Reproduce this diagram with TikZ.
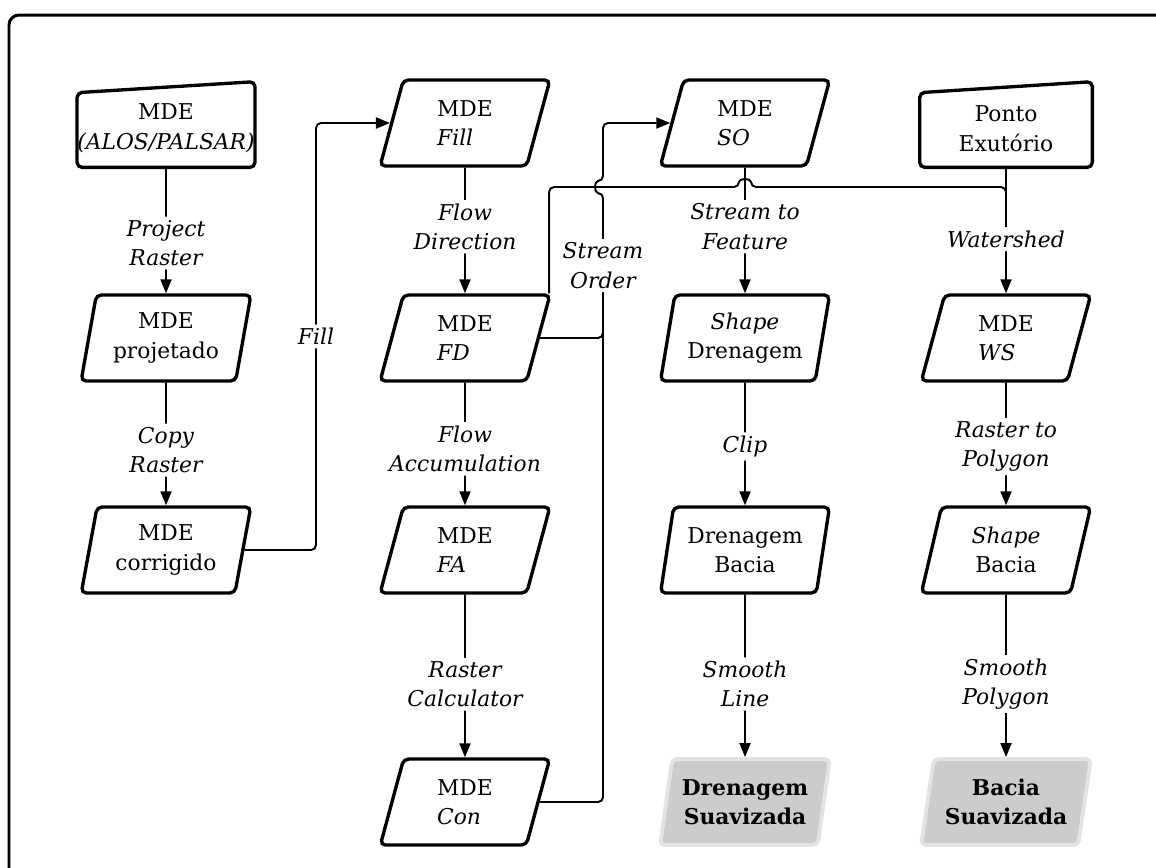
\documentclass[tikz,border=0pt]{standalone}
\usepackage{fontspec}
\setmainfont{DejaVu Serif}
\usetikzlibrary{shapes.geometric,arrows.meta,calc,positioning}

\tikzset{
  txt/.style={font=\fontsize{12.4}{16.8}\selectfont},
  proc/.style={txt, trapezium, trapezium left angle=77, trapezium right angle=103,
    trapezium stretches=true, draw, line width=1.9pt, rounded corners=0.1cm,
    minimum width=3.4cm, minimum height=1.72cm, inner sep=0pt, align=center},
  result/.style={proc, fill=gray!40, draw=gray!22, line width=2.2pt, font=\fontsize{12.4}{16.8}\selectfont\bfseries},
  inbox/.style={txt, rectangle, minimum width=3.44cm, minimum height=1.54cm, inner sep=0pt, align=center},
  inline/.style={line width=1.9pt, rounded corners=0.1cm},
  lbl/.style={txt, fill=white, font=\fontsize{12.4}{16.8}\selectfont\itshape, align=center, inner sep=2pt},
  link/.style={line width=1.1pt, rounded corners=0.1cm},
  flow/.style={link, -{Triangle[length=2.8mm,width=2.2mm]}}
}

\begin{document}
\begin{tikzpicture}[x=0.02cm, y=-0.02cm]
\pgfmathsetmacro{\colA}{166}
\pgfmathsetmacro{\colB}{465}
\pgfmathsetmacro{\colC}{745}
\pgfmathsetmacro{\colD}{1006}
\pgfmathsetmacro{\rowA}{123}
\pgfmathsetmacro{\rowB}{338}
\pgfmathsetmacro{\rowC}{550}
\pgfmathsetmacro{\rowD}{802}

\useasboundingbox (0,0) rectangle (1156,867);
\clip (0,0) rectangle (1156,867);
\draw[line width=1.7pt, rounded corners=0.2cm] (9,15) rectangle (1190,900);

% Nodes
\node[inbox] (dem) at (\colA,128.5) {MDE\\\textit{(ALOS/PALSAR)}};
\node[proc] (proj) at (\colA,\rowB) {MDE\\projetado};
\node[proc] (corr) at (\colA,\rowC) {MDE\\corrigido};

\node[proc, align=left] (fill) at (\colB,\rowA) {MDE\\\textit{Fill}};
\node[proc, align=left] (fd) at (\colB,\rowB) {MDE\\\textit{FD}};
\node[proc, align=left] (fa) at (\colB,\rowC) {MDE\\\textit{FA}};
\node[proc, align=left] (con) at (\colB,\rowD) {MDE\\\textit{Con}};

\node[proc, align=left] (so) at (\colC,\rowA) {MDE\\\textit{SO}};
\node[proc] (shpdren) at (\colC,\rowB) {\textit{Shape}\\Drenagem};
\node[proc] (drenbac) at (\colC,\rowC) {Drenagem\\Bacia};
\node[result] (drensuav) at (\colC,\rowD) {Drenagem\\Suavizada};

\node[inbox] (exut) at (\colD,128.5) {Ponto\\Exutório};
\node[proc, align=left] (ws) at (\colD,\rowB) {MDE\\\textit{WS}};
\node[proc] (shpbac) at (\colD,\rowC) {\textit{Shape}\\Bacia};
\node[result] (baciasuav) at (\colD,\rowD) {Bacia\\Suavizada};

% Input outlines
\draw[inline] (dem.south west) -- (dem.south east) -- ([yshift=0.16cm]dem.north east)
  -- ([yshift=-0.06cm]dem.north west) -- cycle;
\draw[inline] (exut.south west) -- (exut.south east) -- ([yshift=0.16cm]exut.north east)
  -- ([yshift=-0.06cm]exut.north west) -- cycle;

\coordinate (jx) at (603,0);
\coordinate (hy) at (0,187);

% Crossing lines
\draw[link] ([xshift=-0.06cm]fd.top right corner) -- ([xshift=-0.06cm]fd.top right corner |- hy)
  -- ($(so |- hy)+(-6,0)$) .. controls +(0,-9) and +(0,-9) .. ($(so |- hy)+(6,0)$)
  -- (exut |- hy) -- ($(exut |- hy)+(0,25)$);
\draw[link] (fd.east) -| ($(jx |- fd.east)+(0,-25)$);
\draw[flow] (con.east) -- (con.east -| jx) -- (jx |- fd.east)
  -- node[lbl] {Stream\\Order} ($(jx |- hy)+(0,6)$)
  .. controls +(-9,0) and +(-9,0) .. ($(jx |- hy)+(0,-6)$) -- (jx |- so.west) -- (so.west);
\draw[flow] (corr.east) -- (corr.east -| 316,0) -- node[lbl] {Fill} (316,\rowA) -- (fill.west);

% Process lines
\draw[flow] (dem) -- node[lbl, pos=0.6] {Project\\Raster} (proj);
\draw[flow] (proj) -- node[lbl, pos=0.55] {Copy\\Raster} (corr);
\draw[flow] (fill) -- node[lbl, pos=0.47] {Flow\\Direction} (fd);
\draw[flow] (fd) -- node[lbl, pos=0.54] {Flow\\Accumulation} (fa);
\draw[flow] (fa) -- node[lbl, pos=0.55] {Raster\\Calculator} (con);
\draw[flow] (so) -- node[lbl, pos=0.47] {Stream to\\Feature} (shpdren);
\draw[flow] (shpdren) -- node[lbl, pos=0.52] {Clip} (drenbac);
\draw[flow] (drenbac) -- node[lbl, pos=0.55] {Smooth\\Line} (drensuav);
\draw[flow] (exut) -- node[lbl, pos=0.57] {Watershed} (ws);
\draw[flow] (ws) -- node[lbl, pos=0.52] {Raster to\\Polygon} (shpbac);
\draw[flow] (shpbac) -- node[lbl, pos=0.55] {Smooth\\Polygon} (baciasuav);

\end{tikzpicture}
\end{document}
